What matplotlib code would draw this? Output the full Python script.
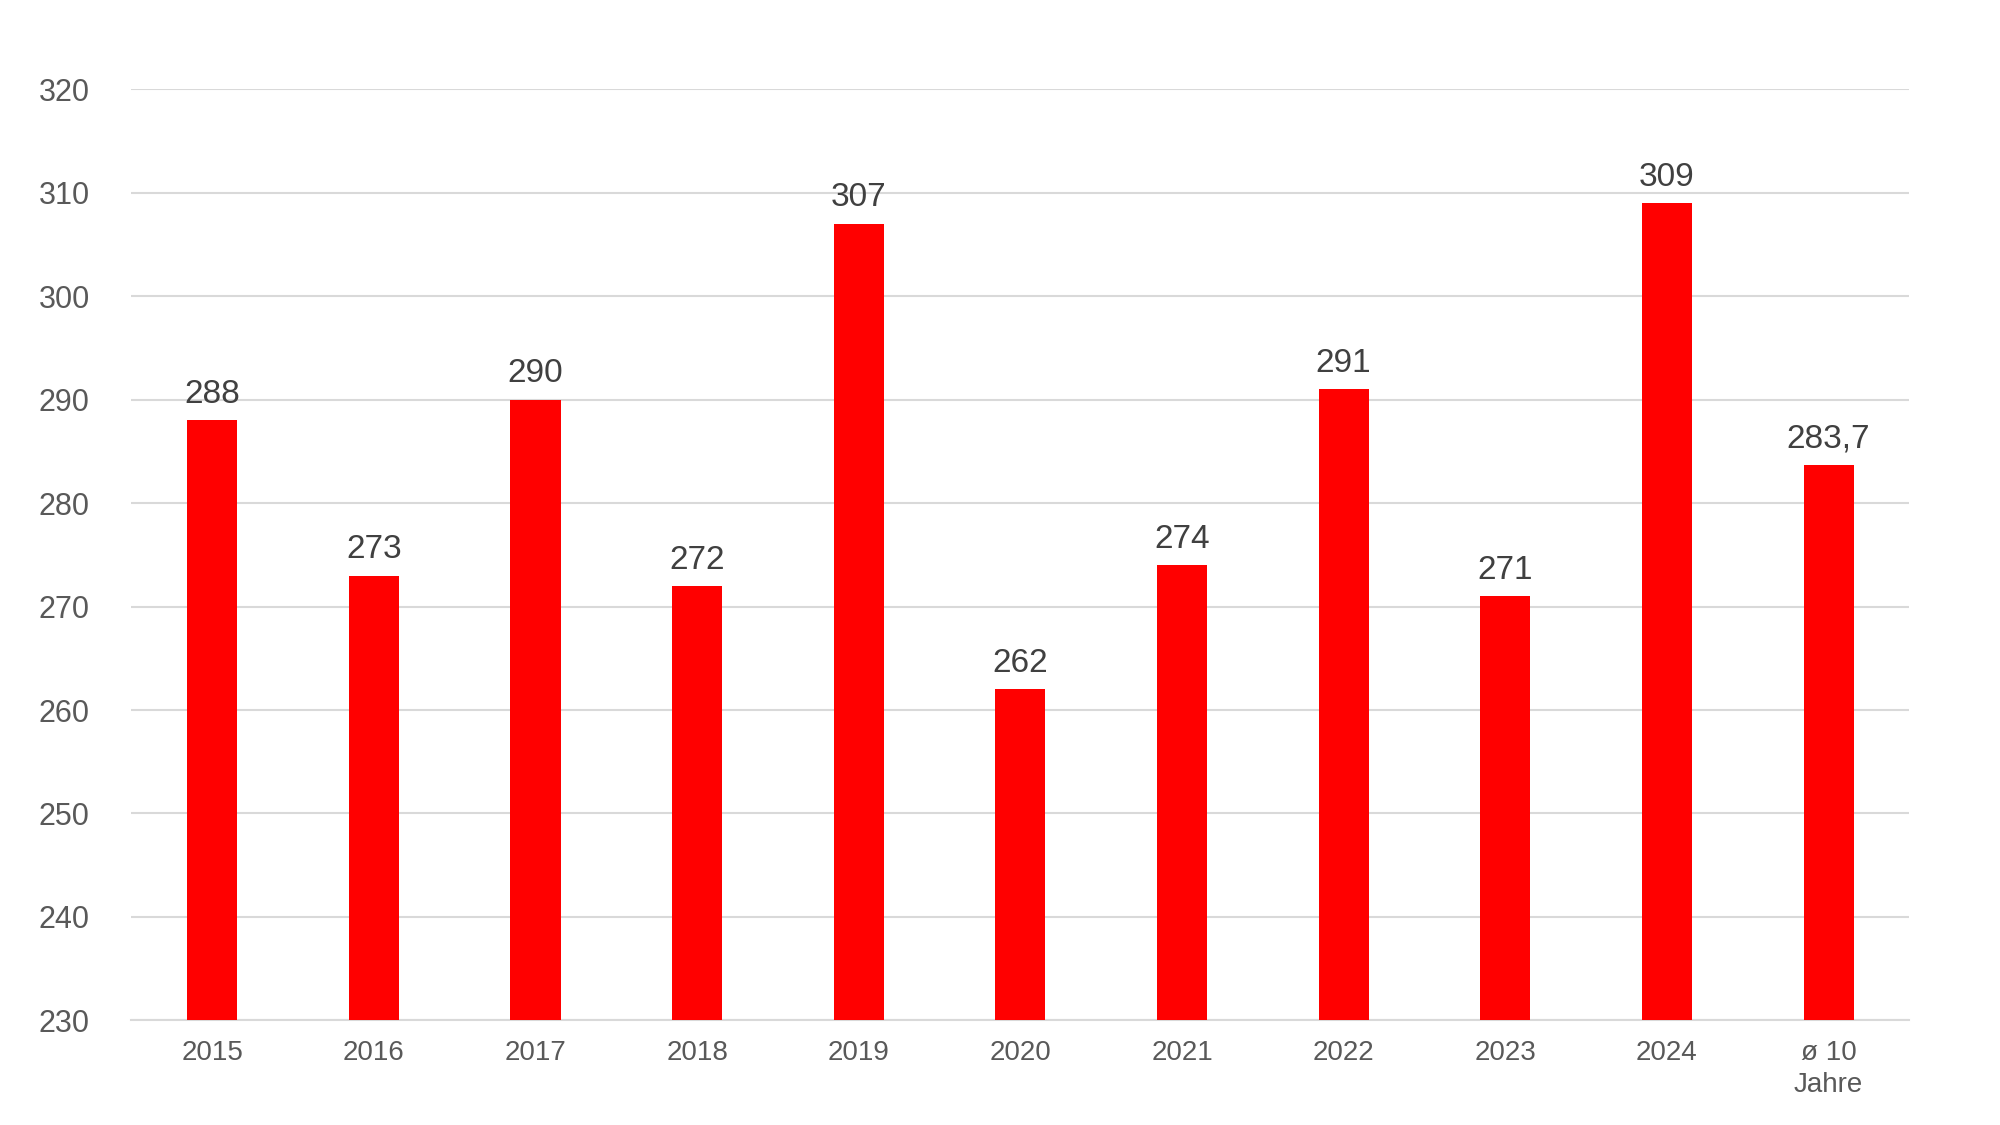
import matplotlib
matplotlib.use("Agg")
import matplotlib.pyplot as plt

categories = ["2015","2016","2017","2018","2019","2020","2021","2022","2023","2024","ø 10\nJahre"]
values = [288,273,290,272,307,262,274,291,271,309,283.7]
labels = ["288","273","290","272","307","262","274","291","271","309","283,7"]
yticks = [230,240,250,260,270,280,290,300,310,320]

plt.rcParams['font.family'] = ['Liberation Sans', 'DejaVu Sans']
fig = plt.figure(figsize=(20, 11.25), dpi=100)
ax = fig.add_axes([0.0657, 0.093, 0.889, 0.8276])
x = range(len(categories))
ax.bar(x, values, width=0.31, color="#ff0000", zorder=3, bottom=0)
for xi, v, l in zip(x, values, labels):
    ax.text(xi, v + 1.0, l, ha="center", va="bottom", fontsize=24, color="#404040")
ax.set_ylim(230, 320)
ax.set_xlim(-0.5, len(categories) - 0.5)
ax.set_yticks(yticks)
ax.set_xticks(list(x))
ax.set_xticklabels(categories, fontsize=20, color="#595959", linespacing=1.3)
ax.tick_params(axis="y", labelsize=22, labelcolor="#595959", length=0, pad=30)
ax.tick_params(axis="x", length=0, pad=14)
ax.grid(axis="y", color="#d9d9d9", linewidth=1.5, zorder=0)
for s in ["top", "right", "left"]:
    ax.spines[s].set_visible(False)
ax.spines["bottom"].set_color("#d9d9d9")
ax.spines["bottom"].set_linewidth(1.5)
fig.savefig("out.png")
